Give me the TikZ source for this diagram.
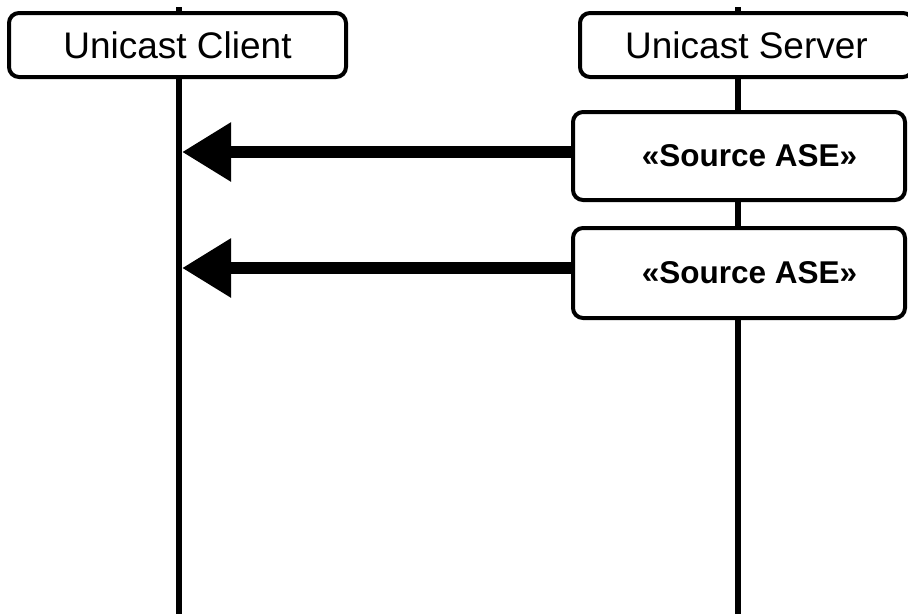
\documentclass[tikz,border=0pt]{standalone}
\usepackage{fontspec}
\setmainfont{Liberation Sans}
\usetikzlibrary{arrows.meta}
\begin{document}
\begin{tikzpicture}[x=1pt,y=-1pt,
  lifeline/.style={line width=6pt},
  actorbox/.style={draw,line width=4pt,rounded corners=10pt,fill=white,minimum height=64pt,inner sep=0pt,font=\fontsize{37}{44}\selectfont},
  asebox/.style={draw,line width=4pt,rounded corners=10pt,fill=white,minimum width=332pt,inner sep=0pt,font=\fontsize{31.5}{38}\selectfont\bfseries},
  msg/.style={line width=12pt,-{Triangle[length=49pt,width=56pt]}}]
\useasboundingbox (0,0) rectangle (908,614);
\clip (0,0) rectangle (908,614);
\fill[white] (0,0) rectangle (908,614);
% lifelines
\coordinate (cltop) at (179,7);
\coordinate (clbot) at (179,614);
\coordinate (svtop) at (738,7);
\coordinate (svbot) at (738,614);
\draw[lifeline] (cltop) -- (clbot);
\draw[lifeline] (svtop) -- (svbot);
% heads
\node[actorbox,minimum width=337pt] (client) at (177.5,45) {Unicast Client};
\node[actorbox,minimum width=333pt] (server) at (746.5,45) {Unicast Server};
% activations
\node[asebox,minimum height=88pt] (src1) at (739,156) {\hspace*{21pt}«Source ASE»};
\node[asebox,minimum height=90pt] (src2) at (739,273) {\hspace*{21pt}«Source ASE»};
% messages
\coordinate (tip) at (182,0);
\draw[msg] ([yshift=4pt]src1.west) -- ([yshift=4pt]src1.west -| tip);
\draw[msg] ([yshift=5pt]src2.west) -- ([yshift=5pt]src2.west -| tip);
\end{tikzpicture}
\end{document}
